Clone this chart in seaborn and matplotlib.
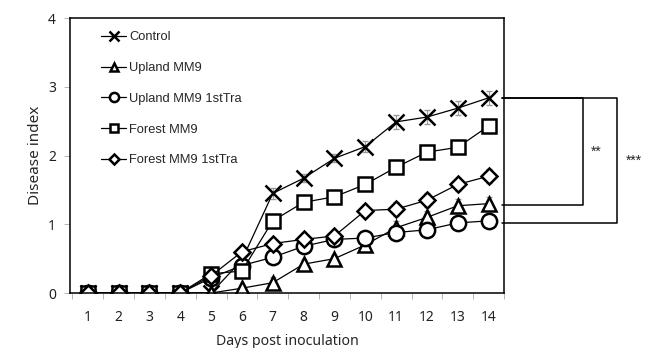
import numpy as np
import pandas as pd
import matplotlib
matplotlib.use("Agg")
import matplotlib.pyplot as plt
import seaborn as sns

# datos
days = list(range(1, 15))
control = [0, 0, 0, 0, 0, 0.48, 1.45, 1.67, 1.96, 2.13, 2.49, 2.56, 2.69, 2.84]
upland = [0, 0, 0, 0, 0, 0.07, 0.15, 0.42, 0.5, 0.7, 0.95, 1.1, 1.27, 1.3]
upland_1st = [0, 0, 0, 0, 0.22, 0.4, 0.52, 0.68, 0.78, 0.8, 0.88, 0.92, 1.02, 1.05]
forest = [0, 0, 0, 0, 0.28, 0.32, 1.05, 1.32, 1.4, 1.58, 1.83, 2.05, 2.12, 2.43]
forest_1st = [0, 0, 0, 0, 0.25, 0.6, 0.72, 0.78, 0.83, 1.2, 1.22, 1.35, 1.58, 1.7]
err = [0, 0, 0, 0, 0.04, 0.05, 0.08, 0.06, 0.06, 0.08, 0.1, 0.1, 0.1, 0.1]

series = ["Control", "Upland MM9", "Upland MM9 1stTra", "Forest MM9", "Forest MM9 1stTra"]
values = [control, upland, upland_1st, forest, forest_1st]
markers = ["x", "^", "o", "s", "D"]
sizes = [11, 10, 11, 10, 8]

sns.set_theme(style="white")
plt.rcParams['font.family'] = ['Noto Sans', 'DejaVu Sans']

fig = plt.figure(figsize=(6.47, 3.48), dpi=100)
ax = fig.add_axes([0.108, 0.158, 0.671, 0.79])

for name, vals, m, s in zip(series, values, markers, sizes):
    ax.errorbar(days, vals, yerr=err, fmt="none", ecolor="#999999", elinewidth=0.8, capsize=2, zorder=1)
    sns.lineplot(x=days, y=vals, ax=ax, color="black", linewidth=0.9, marker=m,
                 markersize=s, markerfacecolor="none" if m == "x" else "white",
                 markeredgecolor="black", markeredgewidth=1.8, label=name, zorder=2)

ax.set_xlim(0.42, 14.45)
ax.set_ylim(0, 4)
ax.set_xticks(days)
ax.set_xticks(np.arange(0.5, 14.6, 1), minor=True)
ax.set_yticks([0, 1, 2, 3, 4])
ax.tick_params(axis="x", which="major", length=0, labelsize=10, pad=12, colors="#222222")
ax.tick_params(axis="x", which="minor", length=4, width=0.6, color="#aaaaaa", direction="out", bottom=True)
ax.tick_params(axis="y", length=4, width=0.6, color="#aaaaaa", direction="out", left=True,
               labelsize=10, pad=6, labelcolor="#222222")
for sp in ax.spines.values():
    sp.set_color("black")
    sp.set_linewidth(1.1)
ax.set_xlabel("Days post inoculation", fontsize=10.2, labelpad=7)
ax.set_ylabel("Disease index", fontsize=11, labelpad=4)

leg = ax.legend(loc="upper left", frameon=False, labelspacing=1.45,
                handlelength=2.0, handletextpad=0.2, borderaxespad=0.3,
                bbox_to_anchor=(0.05, 0.985), markerscale=0.6,
                prop={"family": "Liberation Sans", "size": 9.3})

# corchetes de significancia
def bracket(xb, y1, y2, text, tx):
    x0 = 14.45
    ax.plot([x0, xb, xb, x0], [y1, y1, y2, y2], color="black", lw=1.1, clip_on=False)
    ax.text(tx, (y1 + y2) / 2, text, ha="center", va="center", fontsize=10,
            family="Liberation Sans")

bracket(17.05, 2.84, 1.28, "**", 17.5)
bracket(18.15, 2.84, 1.02, "***", 18.7)

fig.savefig("out.png", dpi=100)
